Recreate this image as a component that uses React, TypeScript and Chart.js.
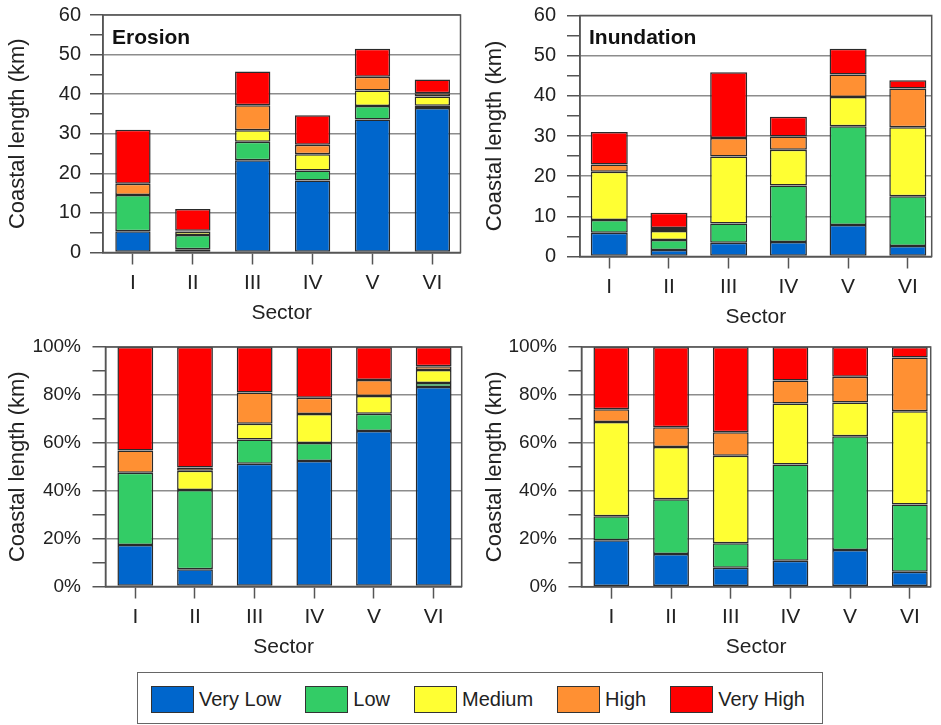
import React, { useEffect, useRef } from 'react';
import { Chart, registerables } from 'chart.js';

Chart.register(...registerables);

const FONT = "'Liberation Sans', Arial, Helvetica, sans-serif";
Chart.defaults.font.family = FONT;

// ---------- data ----------
const categories = ['I', 'II', 'III', 'IV', 'V', 'VI'];
const classNames = ['Very Low', 'Low', 'Medium', 'High', 'Very High'];
const classColors = ['#0066cc', '#33cc66', '#ffff33', '#ff9033', '#ff0000'];

// Erosion, coastal length (km)
const erosionVeryLow = [5.4, 0.8, 23.3, 18.2, 33.6, 36.5];
const erosionLow = [9.1, 3.65, 4.7, 2.5, 3.4, 0.6];
const erosionMedium = [0, 0.85, 2.9, 4.1, 3.9, 2.3];
const erosionHigh = [2.9, 0.2, 6.3, 2.45, 3.5, 0.85];
const erosionVeryHigh = [13.6, 5.5, 8.5, 7.45, 7.1, 3.45];

// Inundation, coastal length (km)
const inundationVeryLow = [5.9, 1.6, 3.4, 3.6, 7.85, 2.6];
const inundationLow = [3.2, 2.5, 4.8, 14.1, 24.55, 12.4];
const inundationMedium = [12.0, 2.25, 16.7, 8.9, 7.3, 17.2];
const inundationHigh = [1.8, 0.75, 4.6, 3.3, 5.6, 9.6];
const inundationVeryHigh = [8.1, 3.8, 16.4, 4.9, 6.4, 2.1];

// Erosion, share of coastal length (%)
const erosionPctVeryLow = [17.3, 7.2, 51.3, 52.4, 64.9, 83.3];
const erosionPctLow = [30.2, 33.1, 10.1, 7.5, 7.2, 1.7];
const erosionPctMedium = [0, 8.0, 6.6, 12.1, 7.4, 5.4];
const erosionPctHigh = [9.3, 1.4, 13.0, 6.8, 6.7, 1.6];
const erosionPctVeryHigh = [43.2, 50.3, 19.0, 21.2, 13.8, 8.0];

// Inundation, share of coastal length (%)
const inundationPctVeryLow = [19.4, 13.6, 7.9, 10.8, 15.3, 6.25];
const inundationPctLow = [10.0, 22.9, 10.2, 40.2, 47.5, 28.05];
const inundationPctMedium = [39.35, 21.8, 36.5, 25.4, 14.0, 38.9];
const inundationPctHigh = [5.25, 8.2, 9.8, 9.6, 10.8, 22.4];
const inundationPctVeryHigh = [26.0, 33.5, 35.6, 14.0, 12.4, 4.4];

// ticks
const kmMajorTicks = [0, 10, 20, 30, 40, 50, 60];
const kmTickLabels = ['0', '10', '20', '30', '40', '50', '60'];
const kmMinorTicks = [5, 15, 25, 35, 45, 55];
const pctMajorTicks = [0, 20, 40, 60, 80, 100];
const pctTickLabels = ['0%', '20%', '40%', '60%', '80%', '100%'];
const pctMinorTicks = [10, 30, 50, 70, 90];

const yTitle = 'Coastal length (km)';
const xTitle = 'Sector';

type Box = { x: number; y: number; w: number; h: number };
type Area = { l: number; r: number; t: number; b: number };

type PanelProps = {
  box: Box;
  area: Area;
  xRange: [number, number];
  series: number[][];
  yMax: number;
  majorTicks: number[];
  tickLabels: string[];
  minorTicks: number[];
  tickFont: number;
  tickPad: number;
  yTitleX: number;
  barPct: number;
  title?: string;
};

function Panel(p: PanelProps) {
  const ref = useRef<HTMLCanvasElement | null>(null);

  useEffect(() => {
    if (!ref.current) return;
    const { box, area } = p;
    const padTop = area.t - box.y;
    const padRight = box.x + box.w - area.r;
    const yWidth = area.l - box.x;
    const xHeight = box.y + box.h - area.b;
    const titleFont = 22;
    const yTitlePad = p.yTitleX - box.x - (titleFont * 1.2) / 2;
    const xFont = 21;
    const xLabelPad = 31 - 12 - (xFont * 1.2) / 2;
    const sectorY = area.b + 60.5;
    const xTitlePadBottom = box.y + box.h - sectorY - (xFont * 1.2) / 2;
    const allTicks = [...p.majorTicks, ...p.minorTicks].sort((a, b) => a - b);

    const framePlugin = {
      id: 'frameAndTitle',
      afterDraw(chart: any) {
        const { ctx, chartArea: a } = chart;
        ctx.save();
        ctx.strokeStyle = '#555';
        ctx.lineWidth = 1.5;
        ctx.strokeRect(a.left, a.top, a.right - a.left, a.bottom - a.top);
        if (p.title) {
          ctx.font = `bold 21px ${FONT}`;
          ctx.fillStyle = '#111';
          ctx.textBaseline = 'middle';
          ctx.textAlign = 'left';
          ctx.fillText(p.title, a.left + 9, a.top + 23);
        }
        ctx.restore();
      },
    };

    const chart = new Chart(ref.current, {
      type: 'bar',
      data: {
        datasets: p.series.map((vals, k) => ({
          label: classNames[k],
          data: vals.map((v, i) => ({ x: i, y: v })),
          backgroundColor: classColors[k],
          borderColor: '#2a2a2a',
          borderWidth: 1.5,
          borderSkipped: false,
          categoryPercentage: 1,
          barPercentage: p.barPct,
        })),
      },
      options: {
        animation: false,
        responsive: false,
        maintainAspectRatio: false,
        layout: { padding: { left: 0, top: padTop, right: padRight, bottom: 0 } },
        plugins: { legend: { display: false }, tooltip: { enabled: false } },
        scales: {
          x: {
            type: 'linear',
            min: p.xRange[0],
            max: p.xRange[1],
            stacked: true,
            offset: false,
            afterBuildTicks: (s: any) => {
              s.ticks = categories.map((_, i) => ({ value: i }));
            },
            afterFit: (s: any) => {
              s.height = xHeight;
              s.paddingLeft = 0;
              s.paddingRight = 0;
            },
            ticks: {
              autoSkip: false,
              maxRotation: 0,
              padding: xLabelPad,
              color: '#222',
              font: { size: xFont },
              callback: (v: any) => categories[v] ?? '',
            },
            grid: {
              offset: false,
              drawOnChartArea: false,
              tickLength: 12,
              tickColor: '#555',
              tickWidth: 1.5,
            },
            border: { color: '#555', width: 1.5 },
            title: {
              display: true,
              text: xTitle,
              color: '#222',
              font: { size: xFont },
              padding: { top: 0, bottom: xTitlePadBottom },
            },
          },
          y: {
            type: 'linear',
            stacked: true,
            min: 0,
            max: p.yMax,
            afterBuildTicks: (s: any) => {
              s.ticks = allTicks.map((v) => ({ value: v }));
            },
            afterFit: (s: any) => {
              s.width = yWidth;
              s.paddingTop = 0;
              s.paddingBottom = 0;
            },
            ticks: {
              autoSkip: false,
              padding: p.tickPad,
              color: '#222',
              font: { size: p.tickFont },
              callback: (v: any) => {
                const idx = p.majorTicks.indexOf(Number(v));
                return idx >= 0 ? p.tickLabels[idx] : '';
              },
            },
            grid: {
              color: (ctx: any) =>
                ctx.tick && p.majorTicks.includes(ctx.tick.value) ? '#8c8c8c' : 'rgba(0,0,0,0)',
              lineWidth: 1.5,
              tickLength: 13,
              tickColor: '#555',
              tickWidth: 1.5,
            },
            border: { color: '#555', width: 1.5 },
            title: {
              display: true,
              text: yTitle,
              color: '#222',
              font: { size: titleFont },
              padding: { top: yTitlePad, bottom: 0 },
            },
          },
        },
      } as any,
      plugins: [framePlugin],
    });
    return () => chart.destroy();
  }, []);

  return (
    <canvas
      ref={ref}
      width={p.box.w}
      height={p.box.h}
      style={{
        position: 'absolute',
        left: p.box.x,
        top: p.box.y,
        width: p.box.w,
        height: p.box.h,
        display: 'block',
      }}
    />
  );
}

export default function App() {
  return (
    <div
      style={{
        position: 'absolute',
        left: 0,
        top: 0,
        width: 941,
        height: 725,
        background: '#fff',
        overflow: 'hidden',
        fontFamily: FONT,
      }}
    >
      <Panel
        box={{ x: 0, y: 0, w: 470, h: 330 }}
        area={{ l: 103, r: 460.5, t: 15, b: 252.5 }}
        xRange={[-0.5, 5.47]}
        series={[erosionVeryLow, erosionLow, erosionMedium, erosionHigh, erosionVeryHigh]}
        yMax={60}
        majorTicks={kmMajorTicks}
        tickLabels={kmTickLabels}
        minorTicks={kmMinorTicks}
        tickFont={20}
        tickPad={9}
        yTitleX={18}
        barPct={0.59}
        title="Erosion"
      />
      <Panel
        box={{ x: 470, y: 0, w: 471, h: 330 }}
        area={{ l: 580, r: 931.7, t: 15.5, b: 256.5 }}
        xRange={[-0.49, 5.4]}
        series={[inundationVeryLow, inundationLow, inundationMedium, inundationHigh, inundationVeryHigh]}
        yMax={60}
        majorTicks={kmMajorTicks}
        tickLabels={kmTickLabels}
        minorTicks={kmMinorTicks}
        tickFont={20}
        tickPad={11}
        yTitleX={495}
        barPct={0.62}
        title="Inundation"
      />
      <Panel
        box={{ x: 0, y: 330, w: 470, h: 337 }}
        area={{ l: 105.5, r: 461.7, t: 347, b: 586.5 }}
        xRange={[-0.5, 5.47]}
        series={[erosionPctVeryLow, erosionPctLow, erosionPctMedium, erosionPctHigh, erosionPctVeryHigh]}
        yMax={100}
        majorTicks={pctMajorTicks}
        tickLabels={pctTickLabels}
        minorTicks={pctMinorTicks}
        tickFont={19}
        tickPad={11.5}
        yTitleX={18}
        barPct={0.6}
      />
      <Panel
        box={{ x: 470, y: 330, w: 471, h: 337 }}
        area={{ l: 581.5, r: 930.7, t: 347, b: 586.7 }}
        xRange={[-0.5, 5.35]}
        series={[inundationPctVeryLow, inundationPctLow, inundationPctMedium, inundationPctHigh, inundationPctVeryHigh]}
        yMax={100}
        majorTicks={pctMajorTicks}
        tickLabels={pctTickLabels}
        minorTicks={pctMinorTicks}
        tickFont={19}
        tickPad={11.5}
        yTitleX={495}
        barPct={0.6}
      />
      <div
        style={{
          position: 'absolute',
          left: 137,
          top: 672,
          width: 686,
          height: 52,
          border: '1.5px solid #666',
          boxSizing: 'border-box',
          display: 'flex',
          alignItems: 'center',
          paddingLeft: 13,
          paddingTop: 3,
          fontFamily: FONT,
          fontSize: 20,
          color: '#222',
          whiteSpace: 'nowrap',
        }}
      >
        {classNames.map((name, i) => (
          <div
            key={name}
            style={{ display: 'flex', alignItems: 'center', marginRight: 24, flexShrink: 0 }}
          >
            <span
              style={{
                display: 'inline-block',
                width: 43,
                height: 27,
                background: classColors[i],
                border: '1.5px solid #333',
                boxSizing: 'border-box',
                marginRight: 5,
                flexShrink: 0,
              }}
            />
            <span style={{ whiteSpace: 'nowrap' }}>{name}</span>
          </div>
        ))}
      </div>
    </div>
  );
}
